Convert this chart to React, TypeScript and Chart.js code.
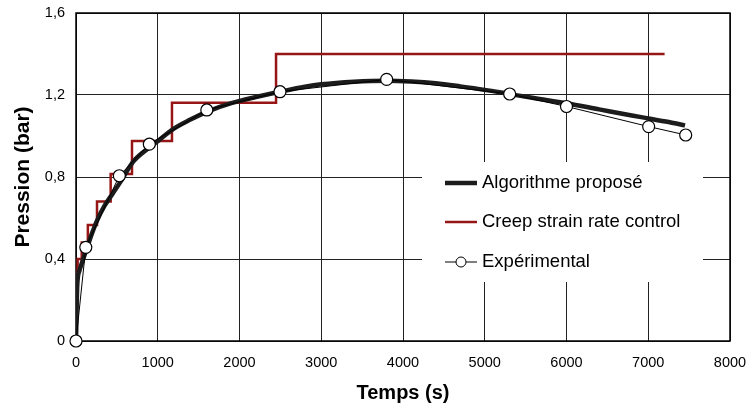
import React, { useEffect, useRef } from 'react';
import { Chart, registerables } from 'chart.js';

Chart.register(...registerables);

const FONT = '"Liberation Sans", Arial, Helvetica, sans-serif';

// ---- data ----
const xTickLabels = ['0', '1000', '2000', '3000', '4000', '5000', '6000', '7000', '8000'];
const yTickLabels = ['0', '0,4', '0,8', '1,2', '1,6'];

const algoTime = [0, 15, 40, 80, 130, 200, 260, 350, 450, 550, 700, 900, 1000, 1175, 1400, 1600, 1900, 2200, 2500, 2800, 3000, 3400, 3800, 4100, 4400, 4700, 5000, 5300, 5600, 6000, 6400, 6800, 7000, 7250, 7450];
const algoPressure = [0, 0.27, 0.34, 0.39, 0.45, 0.53, 0.59, 0.66, 0.72, 0.78, 0.875, 0.945, 0.975, 1.03, 1.08, 1.118, 1.16, 1.19, 1.216, 1.24, 1.252, 1.265, 1.27, 1.266, 1.257, 1.242, 1.225, 1.205, 1.185, 1.16, 1.13, 1.1, 1.086, 1.068, 1.052];

const creepTime = [0, 0, 20, 70, 145, 257, 424, 685, 1174, 2447, 7200];
const creepPressure = [0, 0.33, 0.4, 0.48, 0.566, 0.68, 0.815, 0.976, 1.162, 1.4, 1.4];

const expTime = [0, 120, 530, 897, 1600, 2495, 3800, 5305, 6000, 7005, 7458];
const expPressure = [0, 0.457, 0.806, 0.96, 1.127, 1.216, 1.276, 1.205, 1.144, 1.046, 1.005];

const seriesNames = ['Algorithme proposé', 'Creep strain rate control', 'Expérimental'];

const RED = '#961616';
const ALGO = '#1c1c1c';

const toPoints = (xs: number[], ys: number[]) => xs.map((x, i) => ({ x, y: ys[i] }));

const framePlugin = {
  id: 'frameAndLegend',
  beforeDatasetsDraw(chart: any) {
    const { ctx, chartArea: ca } = chart;
    ctx.save();
    // legend background (covers grid lines)
    const bx = ca.left + 346;
    const by = ca.top + 149;
    const bw = 281;
    const bh = 120;
    ctx.fillStyle = '#ffffff';
    ctx.fillRect(bx, by, bw, bh);

    // plot frame
    ctx.strokeStyle = '#000';
    ctx.lineWidth = 1.5;
    ctx.strokeRect(ca.left, ca.top, ca.right - ca.left, ca.bottom - ca.top);

    // legend items
    const sx0 = bx + 23;
    const sx1 = bx + 55;
    const tx = bx + 60;
    const rows = [by + 21, by + 60, by + 100];
    ctx.font = `18.5px ${FONT}`;
    ctx.textBaseline = 'middle';
    ctx.textAlign = 'left';
    ctx.fillStyle = '#000';

    // Algorithme
    ctx.strokeStyle = ALGO;
    ctx.lineWidth = 4.5;
    ctx.beginPath();
    ctx.moveTo(sx0, rows[0]);
    ctx.lineTo(sx1, rows[0]);
    ctx.stroke();
    ctx.fillText(seriesNames[0], tx, rows[0]);

    // Creep
    ctx.strokeStyle = RED;
    ctx.lineWidth = 2.5;
    ctx.beginPath();
    ctx.moveTo(sx0, rows[1]);
    ctx.lineTo(sx1, rows[1]);
    ctx.stroke();
    ctx.fillText(seriesNames[1], tx, rows[1]);

    // Experimental
    ctx.strokeStyle = '#000';
    ctx.lineWidth = 1;
    ctx.beginPath();
    ctx.moveTo(sx0, rows[2]);
    ctx.lineTo(sx1, rows[2]);
    ctx.stroke();
    ctx.beginPath();
    ctx.arc((sx0 + sx1) / 2, rows[2], 5, 0, Math.PI * 2);
    ctx.fillStyle = '#fff';
    ctx.fill();
    ctx.stroke();
    ctx.fillStyle = '#000';
    ctx.fillText(seriesNames[2], tx, rows[2]);

    ctx.restore();
  },
};

export default function App() {
  const canvasRef = useRef<HTMLCanvasElement | null>(null);

  useEffect(() => {
    const canvas = canvasRef.current;
    if (!canvas) return;
    const chart = new Chart(canvas, {
      type: 'line',
      data: {
        datasets: [
          {
            label: seriesNames[2],
            data: toPoints(expTime, expPressure),
            borderColor: '#000',
            borderWidth: 1,
            pointRadius: 6,
            pointBackgroundColor: '#fff',
            pointBorderColor: '#000',
            pointBorderWidth: 1.2,
            tension: 0,
            clip: false,
            order: 0,
          },
          {
            label: seriesNames[0],
            data: toPoints(algoTime, algoPressure),
            borderColor: ALGO,
            borderWidth: 4.5,
            pointRadius: 0,
            cubicInterpolationMode: 'monotone',
            order: 1,
          },
          {
            label: seriesNames[1],
            data: toPoints(creepTime, creepPressure),
            borderColor: RED,
            borderWidth: 2.5,
            pointRadius: 0,
            stepped: 'before',
            order: 2,
          },
        ],
      },
      options: {
        responsive: false,
        animation: false,
        devicePixelRatio: 1,
        layout: { padding: { left: 0, top: 13, right: 18, bottom: 0 } },
        plugins: {
          legend: { display: false },
          tooltip: { enabled: false },
        },
        scales: {
          x: {
            type: 'linear',
            min: 0,
            max: 8000,
            afterFit: (s: any) => {
              s.height = 71;
              s.paddingLeft = 0;
              s.paddingRight = 0;
            },
            afterBuildTicks: (s: any) => {
              s.ticks = xTickLabels.map((_, i) => ({ value: i * 1000 }));
            },
            ticks: {
              callback: (_v: any, i: number) => xTickLabels[i],
              font: { family: FONT, size: 14.5 },
              color: '#000',
              padding: 13,
              maxRotation: 0,
              autoSkip: false,
            },
            grid: { color: '#222', lineWidth: 1, drawTicks: false },
            border: { display: false },
            title: {
              display: true,
              text: 'Temps (s)',
              font: { family: FONT, size: 20, weight: 'bold' },
              color: '#000',
              padding: { top: 0, bottom: 7 },
            },
          },
          y: {
            type: 'linear',
            min: 0,
            max: 1.6,
            afterFit: (s: any) => {
              s.width = 76;
              s.paddingTop = 0;
              s.paddingBottom = 0;
            },
            afterBuildTicks: (s: any) => {
              s.ticks = yTickLabels.map((_, i) => ({ value: i * 0.4 }));
            },
            ticks: {
              callback: (_v: any, i: number) => yTickLabels[i],
              font: { family: FONT, size: 14.5 },
              color: '#000',
              padding: 11,
              autoSkip: false,
            },
            grid: { color: '#222', lineWidth: 1, drawTicks: false },
            border: { display: false },
            title: {
              display: true,
              text: 'Pression (bar)',
              font: { family: FONT, size: 21, weight: 'bold' },
              color: '#000',
              padding: { top: 11, bottom: 0 },
            },
          },
        },
      },
      plugins: [framePlugin],
    } as any);
    return () => chart.destroy();
  }, []);

  return (
    <div style={{ position: 'absolute', left: 0, top: 0, width: 748, height: 412, background: '#fff' }}>
      <canvas ref={canvasRef} width={748} height={412} style={{ display: 'block', width: 748, height: 412 }} />
    </div>
  );
}
